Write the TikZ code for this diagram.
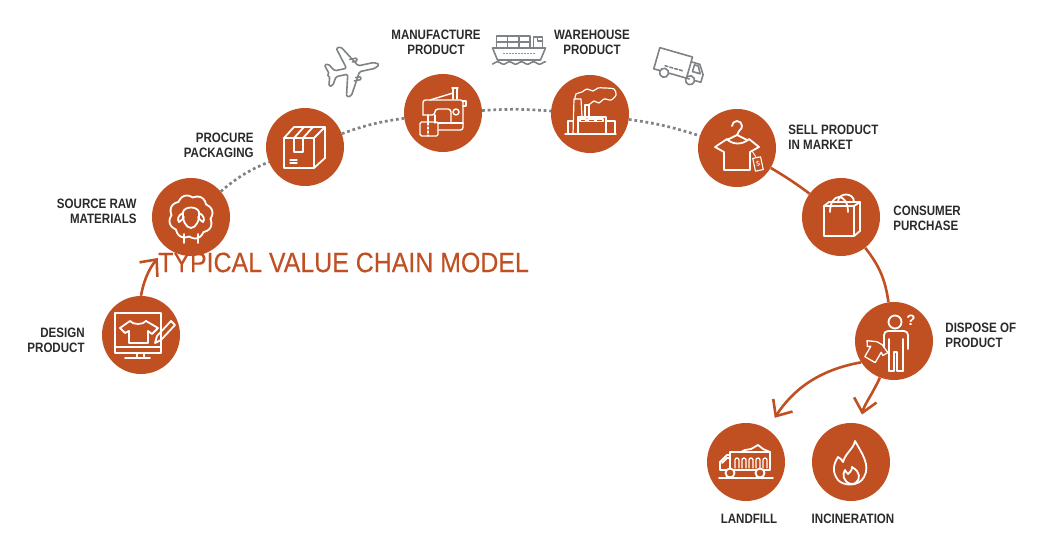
\documentclass[tikz,border=0pt]{standalone}
\usepackage{xcolor}
\usepackage{fontspec}
\setmainfont{Liberation Sans}
\newfontfamily\labelfont[FakeStretch=0.85]{Liberation Sans}
\newfontfamily\titlefont[FakeStretch=0.89,FakeBold=0.3]{Liberation Sans}
\usetikzlibrary{positioning,arrows.meta}
\definecolor{rust}{HTML}{C04F22}
\definecolor{ash}{HTML}{7F8385}
\definecolor{ink}{HTML}{2A2A2C}

\begin{document}
\begin{tikzpicture}[
    x=1pt, y=1pt,
    stage/.style={circle, fill=rust, minimum size=78pt, inner sep=0pt},
    caption/.style={font=\labelfont\bfseries\fontsize{13.6}{15}\selectfont, text=ink, inner sep=0pt},
    dotlink/.style={draw=ash, line width=2.7pt, dash pattern=on 2.8pt off 2.8pt},
    solidlink/.style={draw=rust, line width=2.6pt},
    arrowlink/.style={draw=rust, line width=2.6pt, -{Straight Barb[length=13pt,width=23pt,line width=2.6pt]}},
    icon/.style={draw=white, line width=1.8pt, line join=round, line cap=round},
    greyicon/.style={draw=ash, line width=1.6pt, line join=round, line cap=round}
]
\useasboundingbox (0,0) rectangle (1049,559);

% Stages
\node[stage] (design) at (141,224) {};
\node[stage] (source) at (191,342) {};
\node[stage] (procure) at (305,412) {};
\node[stage] (manufacture) at (443,446) {};
\node[stage] (warehouse) at (590,445) {};
\node[stage] (sell) at (737,411) {};
\node[stage] (consumer) at (841,342) {};
\node[stage] (dispose) at (894,218) {};
\node[stage] (landfill) at (746,97) {};
\node[stage] (incineration) at (851,97) {};

% Captions
\node[caption, align=right] (design_text) [left=17pt of design, yshift=-5.5pt] {DESIGN\\PRODUCT};
\node[caption, align=right] (source_text) [left=15pt of source, yshift=5.5pt] {SOURCE RAW\\MATERIALS};
\node[caption, align=right] (procure_text) [left=12pt of procure, yshift=1.5pt] {PROCURE\\PACKAGING};
\node[caption, align=center] (manufacture_text) [above=19pt of manufacture, xshift=-7pt] {MANUFACTURE\\PRODUCT};
\node[caption, align=center] (warehouse_text) [above=20pt of warehouse, xshift=2pt] {WAREHOUSE\\PRODUCT};
\node[caption, align=left] (sell_text) [right=12pt of sell, yshift=10.5pt] {SELL PRODUCT\\IN MARKET};
\node[caption, align=left] (consumer_text) [right=13pt of consumer, yshift=-1.5pt] {CONSUMER\\PURCHASE};
\node[caption, align=left] (dispose_text) [right=12pt of dispose, yshift=5.5pt] {DISPOSE OF\\PRODUCT};
\node[caption] (landfill_text) [below=13pt of landfill, xshift=3pt] {LANDFILL};
\node[caption] (incineration_text) [below=13pt of incineration, xshift=2pt] {INCINERATION};

% Links
\draw[arrowlink, shorten >=13.5pt] (design.90) to[out=80,in=231] (source.231);
\draw[dotlink] (source) to[bend left=9] (procure);
\draw[dotlink] (procure) to[bend left=6] (manufacture);
\draw[dotlink] (manufacture) to[bend left=4] (warehouse);
\draw[dotlink] (warehouse) to[bend left=5] (sell);
\draw[solidlink] (sell) to[bend left=3] (consumer);
\draw[solidlink] (consumer) to[bend left=15] (dispose);
\draw[arrowlink, shorten >=13.5pt] (dispose.213) to[out=190,in=57] (landfill.57);
\draw[arrowlink, shorten >=9.5pt] (dispose.249) to[out=245,in=77] (incineration.77);

% Design icon
\begin{scope}[shift={(design.center)}, icon]
\draw (-26,22) rectangle (20,-18);
\draw (-26,-12) -- (20,-12);
\draw (-4,-18) -- (-4,-23) (3,-18) -- (3,-23) (-16,-23) -- (9,-23);
\draw (-11,14) -- (-21,7) -- (-16,2) -- (-12,4) -- (-12,-8) -- (7,-8) -- (7,4) -- (11,1) -- (17,7) -- (5,14) .. controls (2,10) and (-8,10) .. (-11,14);
\draw (14,-8) -- (16,-1) -- (30,14) -- (34,10) -- (20,-5) -- cycle;
\end{scope}

% Source icon
\begin{scope}[shift={(source.center)}, icon]
\draw plot[smooth, domain=0:360, samples=73] ({\x:19.5+2.6*abs(sin(4*\x+22))});
\draw (-8,5) .. controls (-6,11) and (6,11) .. (8,5) .. controls (9,-3) and (5,-11) .. (0,-11) .. controls (-5,-11) and (-9,-3) .. (-8,5) -- cycle;
\draw (-8,4) .. controls (-13,2) and (-14,-3) .. (-12,-5) .. controls (-10,-4) and (-8,-2) .. (-7,0);
\draw (8,4) .. controls (13,2) and (14,-3) .. (12,-5) .. controls (10,-4) and (8,-2) .. (7,0);
\draw (-7,-17) -- (-7,-26) (7,-17) -- (7,-26);
\end{scope}

% Procure icon
\begin{scope}[shift={(procure.center)}, icon]
\draw (-21,9) rectangle (9,-21);
\draw (-21,9) -- (-11,20) -- (20,20) -- (20,-11) -- (9,-21) (9,9) -- (20,20);
\draw (-11,9) -- (-1,20) (-2,9) -- (8,20);
\draw (-11,9) -- (-11,-5) -- (-2,-5) -- (-2,9);
\draw[line width=1.3pt] (-15,-13) -- (-8,-13) (-15,-16) -- (-8,-16);
\end{scope}

% Manufacture icon
\begin{scope}[shift={(manufacture.center)}, icon, line width=1.4pt]
\draw[rounded corners=2.5pt] (-20,-2) -- (-20,13) -- (20,13) -- (20,-17) -- (-5,-17);
\draw[rounded corners=3pt] (-20,-2) -- (-8,-2) -- (-8,4) -- (8,4) -- (8,-10);
\draw (-8,-2) -- (-8,-10) (-5,-10) -- (20,-10);
\draw (13,1) circle (3pt);
\draw (20,12) -- (23,12) -- (23,7) -- (20,7);
\draw (9,25) -- (15,25) (10,25) -- (10,14) (14,25) -- (14,14);
\draw (-13,13) -- (10,20);
\draw (-15,-2) -- (-15,-9);
\draw[rounded corners=1.5pt] (-23,-9) rectangle (-5,-23);
\draw[dash pattern=on 2pt off 2pt] (-15,-10) -- (-15,-23);
\end{scope}

% Warehouse icon
\begin{scope}[shift={(warehouse.center)}, icon, line width=1.2pt]
\draw (-25,-20) -- (26,-20);
\draw (-12,-20) -- (-12,-3) -- (16,-3) -- (16,-20);
\draw (16,-7) -- (25,-7) -- (25,-20);
\draw (-22,-20) -- (-22,-7) -- (-17,-7);
\draw (-17,-20) -- (-16,15) -- (-9,15) -- (-8,-3);
\draw (-5,-3) -- (-5,9) -- (-1,9) -- (-1,-3);
\draw (-10,-7.5) rectangle (-4,-5) (-2,-7.5) rectangle (5,-5) (6,-7.5) rectangle (13,-5);
\draw plot[smooth] coordinates {(-15,15) (-14,20) (-8,22) (-3,25) (3,23) (8,26) (14,26) (24,25) (26,19) (21,14) (14,15) (9,11) (4,13) (0,10) (-3,9)};
\end{scope}

% Sell icon
\begin{scope}[shift={(sell.center)}, icon]
\draw (-5,22) arc (180:-60:5pt) -- (0,13) -- (-10,8) (0,13) -- (10,8);
\draw (-10,9) -- (-22,1) -- (-13,-4) -- (-13,-22) -- (13,-22) -- (13,-4) -- (22,1) -- (12,9) .. controls (6,3) and (-5,3) .. (-10,9);
\draw[line width=0.9pt] (15,-3) -- (19,-9);
\draw[line width=1.1pt, rotate around={12:(21,-16)}] (17,-9.5) rectangle (25,-22.5);
\node[text=white, font=\fontsize{7}{7}\selectfont, inner sep=0pt, rotate=12] (sell_tag) at (21,-16) {\$};
\end{scope}

% Consumer icon
\begin{scope}[shift={(consumer.center)}, icon]
\draw (-17,11) rectangle (13,-19);
\draw (-17,11) -- (-12,15) -- (19,15) -- (19,-14) -- (13,-19) (13,11) -- (19,15);
\draw (-11,5) .. controls (-11,25) and (7,25) .. (7,5);
\draw (-3,15) .. controls (-3,25) and (13,25) .. (13,15);
\end{scope}

% Dispose icon
\begin{scope}[shift={(dispose.center)}, icon]
\draw (1,19) circle (6.5pt);
\draw[rounded corners=4pt] (-10,-6) -- (-10,10) -- (14,10) -- (14,-8);
\draw (-5,-30) -- (-5,2) (9,-30) -- (9,2);
\draw (-5,-30) -- (0,-30) -- (0,-11) -- (3,-11) -- (3,-30) -- (9,-30);
\draw[line width=1.3pt, rotate around={-30:(-19,-10)}] (-22,-1) -- (-31,-5) -- (-28,-10) -- (-25,-8) -- (-25,-20) -- (-13,-20) -- (-13,-8) -- (-10,-10) -- (-7,-5) -- (-16,-1) -- cycle;
\node[text=white, font=\bfseries\fontsize{15}{15}\selectfont, inner sep=0pt] (dispose_mark) at (17,21) {?};
\end{scope}

% Landfill icon
\begin{scope}[shift={(landfill.center)}, icon]
\draw (-27,-16) -- (27,-16);
\draw (-16,-8) -- (-16,10) (24,10) -- (24,-8) -- (-26,-8) -- (-26,0) -- (-19,7) -- (-16,7);
\draw (-24,-1) -- (-19,4) -- (-16,4);
\draw (-16,10) -- (-5,10) -- (-1,12) -- (5,13) -- (12,17) -- (17,13) -- (24,10) -- (-5,10);
\foreach \slat in {-9,-2,5,12,19}
  \draw[line width=1.3pt] (\slat-2,-6) -- (\slat-2,2) arc (180:0:2pt) -- (\slat+2,-6);
\draw[fill=rust] (-16,-11) circle (4.5pt) (14,-11) circle (4.5pt);
\end{scope}

% Incineration icon
\begin{scope}[shift={(incineration.center)}, icon]
\draw (4,21) .. controls (2,12) and (-5,10) .. (-8,0) .. controls (-10,3) and (-11,4) .. (-13,5) .. controls (-18,-3) and (-19,-10) .. (-13,-18) .. controls (-8,-24) and (8,-25) .. (13,-15) .. controls (20,-3) and (10,10) .. (4,21) -- cycle;
\draw (1,-5) .. controls (1,-9) and (-2,-11) .. (-3,-12) .. controls (-4,-11) and (-5,-10) .. (-6,-8) .. controls (-9,-12) and (-8,-20) .. (0,-22) .. controls (8,-22) and (10,-14) .. (6,-9) .. controls (5,-8) and (3,-6) .. (1,-5) -- cycle;
\end{scope}

% Plane icon
\begin{scope}[shift={(353,489)}, rotate=12, greyicon]
\draw[rounded corners=1.5pt] (27,0) -- (22,3) -- (6,3) -- (-7,25) -- (-12,25) -- (-6,3) -- (-18,3) -- (-23,11) -- (-27,11) -- (-24,1) -- (-27,0) -- (-24,-1) -- (-27,-11) -- (-23,-11) -- (-18,-3) -- (-6,-3) -- (-12,-25) -- (-7,-25) -- (6,-3) -- (22,-3) -- cycle;
\draw[rounded corners=1pt] (-1,11) -- (6,11) -- (6,8) -- (1,8) (-1,-11) -- (6,-11) -- (6,-8) -- (1,-8);
\end{scope}

% Ship icon
\begin{scope}[shift={(518.5,510)}, greyicon]
\draw (-26,1) -- (27,1) -- (22,-11) -- (-21,-11) -- cycle;
\draw (-22,1) -- (-22,13) -- (11.5,13) -- (11.5,1);
\draw (-22,7) -- (11.5,7);
\foreach \post in {-11,0.5}
  \draw (\post,1) -- (\post,13);
\draw (15,1) -- (15,12) -- (24,12) -- (24,1) (19,12) -- (19,8) -- (24,8);
\draw[dash pattern=on 1pt off 2pt, line width=1pt] (-15,-5) -- (18,-5);
\draw plot[smooth, domain=-26:27, samples=41] (\x,{-14+1.2*sin(30*\x)});
\end{scope}

% Truck icon
\begin{scope}[shift={(680,491)}, rotate=-16, greyicon]
\draw (-25,-8) -- (-25,14) -- (9,14) -- (9,-8) -- (8,-8);
\draw (-25,-8) -- (-19,-8) (-9,-8) -- (8,-8);
\draw (9,9) -- (18,9) -- (24,0) -- (24,-8) -- (18,-8);
\draw (12,-8) -- (8,-8) (13,7) -- (17,7) -- (21,0) -- (13,0) -- cycle;
\draw (-14,-9) circle (4.5pt) (13,-9) circle (4.5pt);
\draw[dash pattern=on 3pt off 2pt] (-15,-2) -- (4,-2);
\end{scope}

% Title
\node[font=\titlefont\fontsize{28}{28}\selectfont, text=rust, anchor=west, inner sep=0pt] (chain_title) at (158,296.5) {TYPICAL VALUE CHAIN MODEL};

\end{tikzpicture}
\end{document}
